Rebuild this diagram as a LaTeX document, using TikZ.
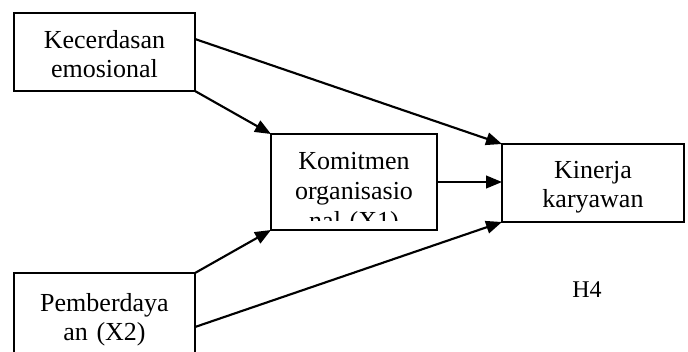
\documentclass[tikz,border=0pt]{standalone}
\usepackage{fontspec}
\setmainfont{Liberation Serif}
\usetikzlibrary{arrows.meta}
\begin{document}
\begin{tikzpicture}[x=0.75pt,y=-0.75pt,
    kotak/.style={draw,line width=1.6pt,inner sep=0pt,outer sep=0pt,align=center,
      font=\fontsize{19.5}{21.75}\selectfont},
    panah/.style={line width=1.6pt,-{Triangle[length=12pt,width=9.5pt]}}]
    \clip (0,0) rectangle (688,351);
    \node[kotak,anchor=north west,text width=135.75pt,text height=26.25pt,text depth=32.25pt] (emosi) at (14,13) {Kecerdasan\\emosional};
    \node[kotak,anchor=north west,text width=136.5pt,text height=25.5pt,text depth=33pt] (kinerja) at (502,144) {Kinerja\\karyawan};
    \node[kotak,anchor=north west,text width=135.75pt,text height=28.5pt,text depth=36.75pt] (daya) at (14,273) {Pemberdaya\\an (X2)};
    \node[kotak,anchor=north west,minimum width=124.5pt,minimum height=72pt] (komit) at (271,134) {};
    % last line of the text is cut off by the box
    \begin{scope}
      \clip (271,134) rectangle (437,220);
      \node[kotak,draw=none,anchor=north,text width=124.5pt,text height=26.25pt,
        font=\fontsize{19.5}{22.5}\selectfont] (komtxt) at (komit.north) {Komitmen\\organisasio\\nal (X1)};
    \end{scope}
    \node[font=\fontsize{18}{21}\selectfont,anchor=base] (hipo) at (587,297) {H4};
    \draw[panah] ([yshift=9.75pt]emosi.east) -- (kinerja.north west);
    \draw[panah] (emosi.south east) -- (komit.north west);
    \draw[panah] (komit.east) -- (komit.east -| kinerja.west);
    \draw[panah] (daya.north east) -- (komit.south west);
    \draw[panah] ([yshift=-7.875pt]daya.east) -- (kinerja.south west);
\end{tikzpicture}
\end{document}
